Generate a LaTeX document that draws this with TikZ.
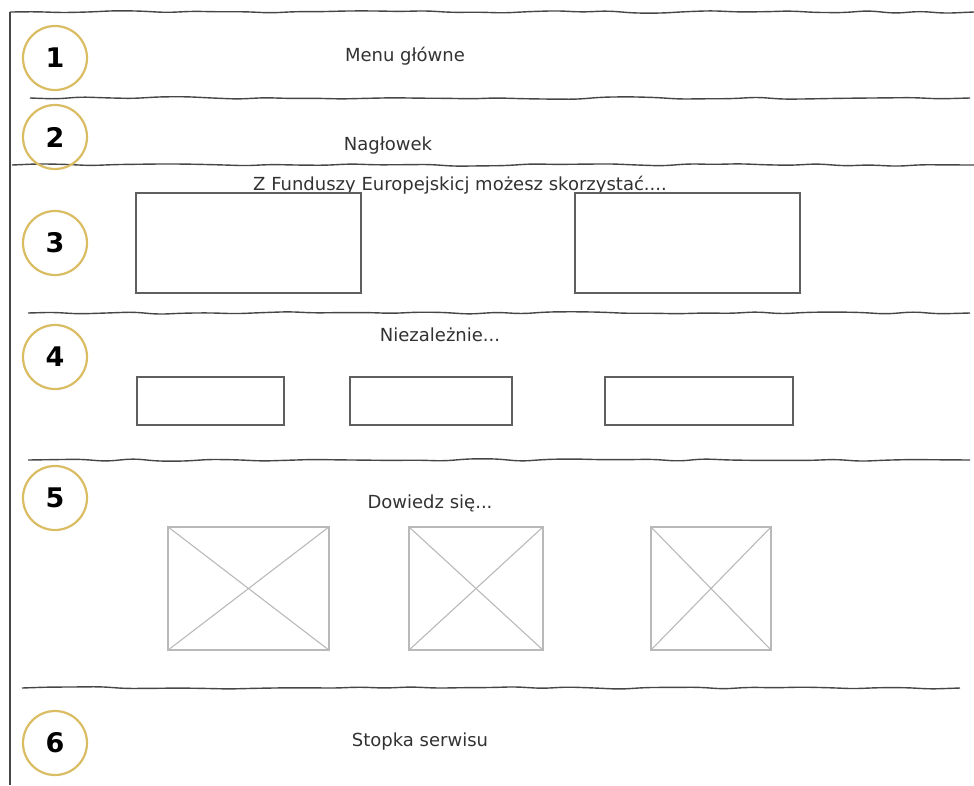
\documentclass[tikz,border=0pt]{standalone}
\usepackage{fontspec}
\setmainfont{DejaVu Sans}
\usetikzlibrary{decorations.pathmorphing}
\definecolor{gold}{RGB}{218,188,98}
\definecolor{linegray}{RGB}{70,70,70}
\definecolor{boxgray}{RGB}{95,95,95}
\definecolor{imggray}{RGB}{185,185,185}
\definecolor{txtgray}{RGB}{50,50,50}
\tikzset{
  sectline/.style={draw=linegray, line width=1.4pt, decorate,
    decoration={random steps, segment length=26pt, amplitude=1.3pt}, rounded corners=8pt},
  circ/.style={circle, draw=gold, line width=2.2pt, minimum size=64pt, inner sep=0pt,
    font=\fontsize{27}{31}\selectfont\bfseries, text=black},
  lbl/.style={font=\fontsize{18}{21}\selectfont, text=txtgray, inner sep=0pt, anchor=base},
  wbox/.style={draw=boxgray, line width=1.3pt, rectangle, inner sep=0pt},
  imgbox/.style={draw=imggray, line width=1.2pt, rectangle, inner sep=0pt},
  cross/.style={draw=imggray, line width=1.1pt}
}
\begin{document}
\begin{tikzpicture}[x=1pt, y=-1pt]
\pgfmathsetseed{7}
\useasboundingbox (0,0) rectangle (974,785);
% frame lines
\coordinate (tl) at (10,12);
\coordinate (tr) at (974,12);
\coordinate (bl) at (10,785);
\draw[sectline] (tl) -- (tr);
\draw[draw=linegray, line width=1.4pt] (tl) -- (bl);
% section separators
\coordinate (s1a) at (30,98);  \coordinate (s1b) at (970,98);
\coordinate (s2a) at (12,165); \coordinate (s2b) at (974,165);
\coordinate (s3a) at (28,313); \coordinate (s3b) at (970,313);
\coordinate (s4a) at (28,460); \coordinate (s4b) at (970,460);
\coordinate (s5a) at (22,688); \coordinate (s5b) at (960,688);
\draw[sectline] (s1a) -- (s1b);
\draw[sectline] (s2a) -- (s2b);
\draw[sectline] (s3a) -- (s3b);
\draw[sectline] (s4a) -- (s4b);
\draw[sectline] (s5a) -- (s5b);
% numbered circles
\node[circ] (c1) at (55,58) {1};
\node[circ] (c2) at (55,137) {2};
\node[circ] (c3) at (55,243) {3};
\node[circ] (c4) at (55,357) {4};
\node[circ] (c5) at (55,498) {5};
\node[circ] (c6) at (55,743) {6};
% labels
\node[lbl] (t1) at (405,61) {Menu główne};
\node[lbl] (t2) at (388,150) {Nagłowek};
\node[lbl] (t3) at (460,190) {Z Funduszy Europejskicj możesz skorzystać....};
\node[lbl] (t4) at (440,341) {Niezależnie...};
\node[lbl] (t5) at (430,508) {Dowiedz się...};
\node[lbl] (t6) at (420,746) {Stopka serwisu};
% section 3 boxes
\node[wbox, minimum width=225pt, minimum height=100pt] (b31) at (248.5,243) {};
\node[wbox, minimum width=225pt, minimum height=100pt] (b32) at (687.5,243) {};
% section 4 boxes
\node[wbox, minimum width=147pt, minimum height=48pt] (b41) at (210.5,401) {};
\node[wbox, minimum width=162pt, minimum height=48pt] (b42) at (431,401) {};
\node[wbox, minimum width=188pt, minimum height=48pt] (b43) at (699,401) {};
% section 5 image placeholders
\node[imgbox, minimum width=161pt, minimum height=123pt] (i1) at (248.5,588.5) {};
\node[imgbox, minimum width=134pt, minimum height=123pt] (i2) at (476,588.5) {};
\node[imgbox, minimum width=120pt, minimum height=123pt] (i3) at (711,588.5) {};
\foreach \i in {i1,i2,i3}{
  \draw[cross] (\i.north west) -- (\i.south east);
  \draw[cross] (\i.south west) -- (\i.north east);
}
\end{tikzpicture}
\end{document}
